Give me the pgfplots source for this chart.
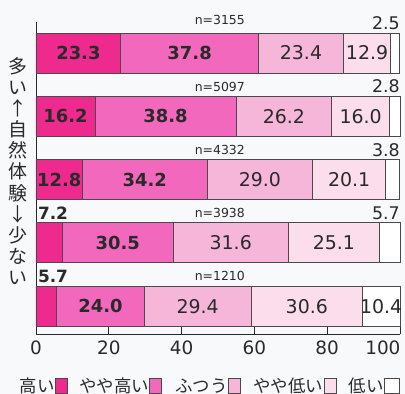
\documentclass[border=0pt]{standalone}
\usepackage{pgfplots}
\pgfplotsset{compat=1.18}
\usepackage{pgfplotstable}
\usepackage{fontspec}
\setmainfont{DejaVu Sans}
\newfontfamily\jp{Noto Sans CJK JP}
\definecolor{c1}{HTML}{EE2A8E}
\definecolor{c2}{HTML}{F268BC}
\definecolor{c3}{HTML}{F6B6DA}
\definecolor{c4}{HTML}{FBDDEC}
\definecolor{c5}{HTML}{FFFFFF}
\definecolor{edge}{HTML}{4A4A4A}
\definecolor{txt}{HTML}{2A2A2A}
\definecolor{bgc}{HTML}{F8F9FB}

% stacked shares, rows: y=5 (top, n=3155) ... y=1 (bottom, n=1210)
\pgfplotstableread{
y  high  mhigh  mid   mlow  low
5  23.3  37.8   23.4  12.9  2.5
4  16.2  38.8   26.2  16.0  2.8
3  12.8  34.2   29.0  20.1  3.8
2  7.2   30.5   31.6  25.1  5.7
1  5.7   24.0   29.4  30.6  10.4
}\shares

\pgfplotstableread{
x      y  label
11.65  5  23.3
42.2   5  37.8
8.1    4  16.2
35.6   4  38.8
6.4    3  12.8
29.9   3  34.2
22.45  2  30.5
17.7   1  24.0
}\boldlabels

\pgfplotstableread{
x      y  label
72.8   5  23.4
90.95  5  12.9
68.1   4  26.2
89.2   4  16.0
61.5   3  29.0
86.05  3  20.1
53.5   2  31.6
81.85  2  25.1
44.4   1  29.4
74.4   1  30.6
94.8   1  10.4
}\reglabels

\pgfplotstableread{
x    y     label
100  5.47  2.5
100  4.47  2.8
100  3.47  3.8
100  2.47  5.7
}\rightlabels

\pgfplotstableread{
x    y     label
0.5  2.47  7.2
0.5  1.47  5.7
}\leftlabels

\pgfplotstableread{
x     y     label
50.5  5.52  n=3155
50.5  4.47  n=5097
50.5  3.47  n=4332
50.5  2.47  n=3938
50.5  1.47  n=1210
}\nlabels

\begin{document}
\begin{tikzpicture}
\fill[bgc] (0,0) rectangle (405bp,394bp);
\useasboundingbox (0,0) rectangle (405bp,394bp);
\begin{axis}[
  at={(36bp,60bp)}, anchor=south west,
  scale only axis, width=364bp, height=312bp,
  xmin=0, xmax=100, ymin=0.56, ymax=5.49,
  xbar stacked, bar width=40bp,
  axis x line=bottom, axis y line=left, axis line style={-, draw=txt, line width=0.8bp},
  ytick=\empty, xtick={0,20,40,60,80},
  extra x ticks={100},
  extra x tick style={xticklabel style={anchor=north east, xshift=4bp}},
  tick align=inside, major tick length=7bp,
  tick style={draw=txt, line width=0.8bp},
  /pgf/number format/assume math mode=true,
  xticklabel style={font=\fontsize{18.5}{20}\selectfont, text=txt, yshift=-3bp},
  clip=false,
  legend columns=10,
  legend style={at={(0.478,-0.167)}, anchor=center, draw=none, fill=none,
    font=\jp\fontsize{17.5}{18}\selectfont, text=txt,
    nodes={inner sep=0.5bp}, column sep=0bp},
]
\addplot[forget plot, fill=c1, draw=edge, line width=0.8bp] table[x=high, y=y] {\shares};
\addplot[forget plot, fill=c2, draw=edge, line width=0.8bp] table[x=mhigh, y=y] {\shares};
\addplot[forget plot, fill=c3, draw=edge, line width=0.8bp] table[x=mid, y=y] {\shares};
\addplot[forget plot, fill=c4, draw=edge, line width=0.8bp] table[x=mlow, y=y] {\shares};
\addplot[forget plot, fill=c5, draw=edge, line width=0.8bp] table[x=low, y=y] {\shares};

\addlegendimage{empty legend}\addlegendentry{高い}
\addlegendimage{legend image code/.code={\draw[draw=edge, fill=c1, line width=0.6bp] (0bp,-7.5bp) rectangle (12bp,7.5bp);}}\addlegendentry{}
\addlegendimage{empty legend}\addlegendentry{\hspace{10bp}やや高い}
\addlegendimage{legend image code/.code={\draw[draw=edge, fill=c2, line width=0.6bp] (0bp,-7.5bp) rectangle (12bp,7.5bp);}}\addlegendentry{}
\addlegendimage{empty legend}\addlegendentry{\hspace{12bp}ふつう}
\addlegendimage{legend image code/.code={\draw[draw=edge, fill=c3, line width=0.6bp] (0bp,-7.5bp) rectangle (12bp,7.5bp);}}\addlegendentry{}
\addlegendimage{empty legend}\addlegendentry{\hspace{11bp}やや低い}
\addlegendimage{legend image code/.code={\draw[draw=edge, fill=c4, line width=0.6bp] (0bp,-7.5bp) rectangle (12bp,7.5bp);}}\addlegendentry{}
\addlegendimage{empty legend}\addlegendentry{\hspace{11bp}低い}
\addlegendimage{legend image code/.code={\draw[draw=edge, fill=c5, line width=0.6bp] (0bp,-7.5bp) rectangle (15bp,7.5bp);}}\addlegendentry{}
\end{axis}

\begin{axis}[
  at={(36bp,60bp)}, anchor=south west,
  scale only axis, width=364bp, height=312bp,
  xmin=0, xmax=100, ymin=0.56, ymax=5.49,
  hide axis, clip=false,
]
\addplot[draw=none, mark=none, nodes near coords, point meta=explicit symbolic,
  every node near coord/.append style={anchor=center, font=\bfseries\fontsize{18}{18}\selectfont, text=txt}]
  table[x=x, y=y, meta=label] {\boldlabels};
\addplot[draw=none, mark=none, nodes near coords, point meta=explicit symbolic,
  every node near coord/.append style={anchor=center, font=\fontsize{19}{19}\selectfont, text=txt}]
  table[x=x, y=y, meta=label] {\reglabels};
\addplot[draw=none, mark=none, nodes near coords, point meta=explicit symbolic,
  every node near coord/.append style={anchor=east, inner sep=0pt, font=\fontsize{17.5}{17}\selectfont, text=txt}]
  table[x=x, y=y, meta=label] {\rightlabels};
\addplot[draw=none, mark=none, nodes near coords, point meta=explicit symbolic,
  every node near coord/.append style={anchor=west, inner sep=0pt, font=\bfseries\fontsize{17}{17}\selectfont, text=txt}]
  table[x=x, y=y, meta=label] {\leftlabels};
\addplot[draw=none, mark=none, nodes near coords, point meta=explicit symbolic,
  every node near coord/.append style={anchor=center, inner sep=0pt, font=\fontsize{12.5}{13}\selectfont, text=txt}]
  table[x=x, y=y, meta=label] {\nlabels};
\end{axis}

\node[font=\jp\fontsize{19}{21.2}\selectfont, align=center, text=txt, inner sep=0pt] at (18bp,223bp)
  {多\\い\\↑\\自\\然\\体\\験\\↓\\少\\な\\い};
\end{tikzpicture}
\end{document}
